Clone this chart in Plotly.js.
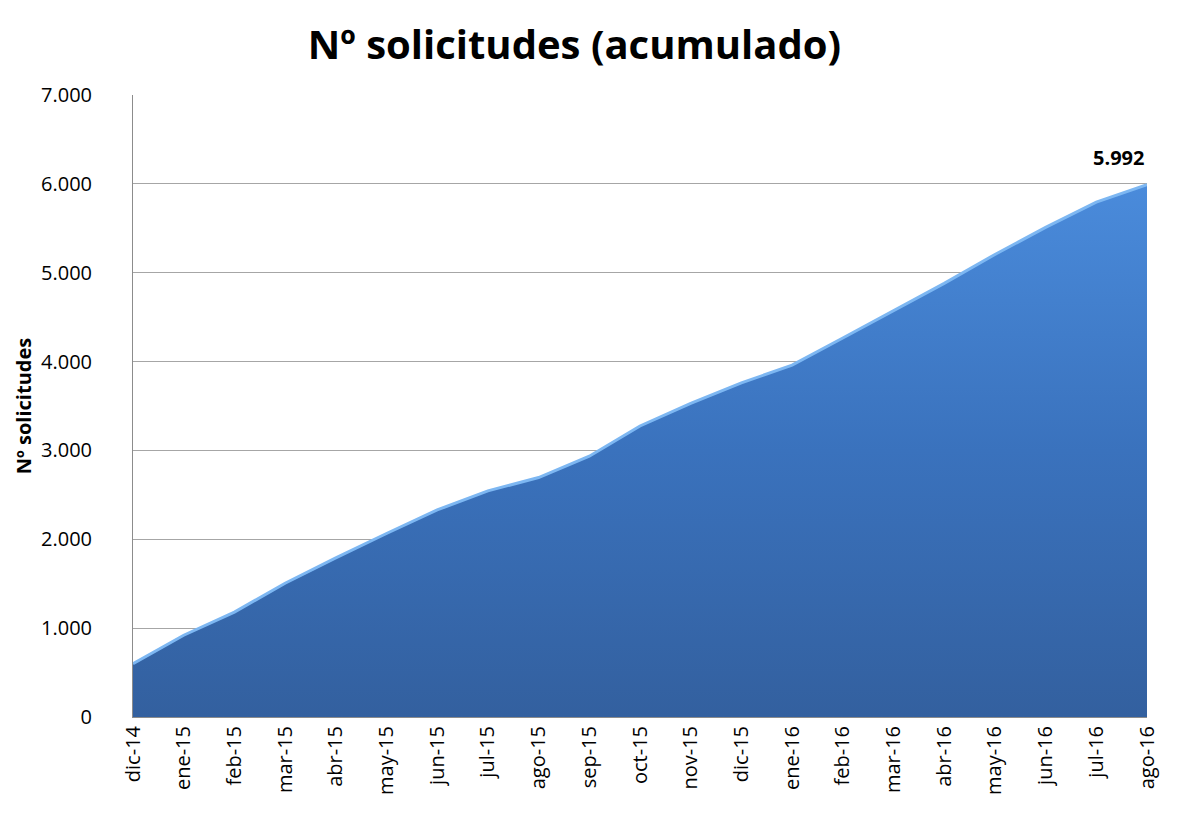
<!DOCTYPE html>
<html>
<head>
<meta charset="utf-8">
<script src="https://cdn.plot.ly/plotly-3.0.1.min.js"></script>
<style>html,body{margin:0;padding:0;background:#fff;}#chart{width:1177px;height:814px;}</style>
</head>
<body>
<div id="chart"></div>
<script>
const months = ["dic-14","ene-15","feb-15","mar-15","abr-15","may-15","jun-15","jul-15","ago-15","sep-15","oct-15","nov-15","dic-15","ene-16","feb-16","mar-16","abr-16","may-16","jun-16","jul-16","ago-16"];
const solicitudes = [600, 920, 1180, 1505, 1790, 2065, 2330, 2545, 2695, 2935, 3275, 3530, 3760, 3960, 4265, 4575, 4880, 5205, 5510, 5795, 5992];
const lastLabel = "5.992";

const font = "Open Sans, Liberation Sans, sans-serif";

const trace = {
  type: "scatter",
  mode: "lines",
  x: months,
  y: solicitudes,
  fill: "tozeroy",
  fillgradient: {type: "vertical", colorscale: [[0, "#33609f"], [0.5, "#3a72bd"], [1, "#4a8bdb"]]},
  line: {color: "#7db7f2", width: 3, shape: "linear"},
  hoverinfo: "x+y"
};

const layout = {
  width: 1177, height: 814,
  paper_bgcolor: "#ffffff", plot_bgcolor: "#ffffff",
  separators: ",.",
  margin: {l: 133, r: 30, t: 95, b: 97},
  showlegend: false,
  title: {text: "<b>Nº solicitudes (acumulado)</b>", x: 0.488, xanchor: "center", y: 0.945, yanchor: "middle",
          font: {family: font, size: 40, color: "#000"}},
  xaxis: {
    type: "category", range: [0, months.length - 1],
    showgrid: false, showline: true, linecolor: "#8c8c8c", linewidth: 1,
    ticks: "", tickangle: -90, tickfont: {family: font, size: 20, color: "#000"},
    fixedrange: true
  },
  yaxis: {
    range: [0, 7000], dtick: 1000, tickformat: ",d",
    showgrid: true, gridcolor: "#a6a6a6", gridwidth: 1,
    showline: true, linecolor: "#8c8c8c", linewidth: 1, zeroline: false,
    ticks: "", tickfont: {family: font, size: 20, color: "#000"}, ticklabelstandoff: 36,
    title: {text: "<b>Nº solicitudes</b>", font: {family: font, size: 20, color: "#000"}, standoff: 4},
    fixedrange: true
  },
  annotations: [{
    x: months[months.length - 1], y: solicitudes[solicitudes.length - 1],
    text: "<b>" + lastLabel + "</b>", showarrow: false,
    xanchor: "center", yanchor: "bottom", yshift: 12, xshift: -29,
    font: {family: font, size: 20, color: "#000"}
  }]
};

Plotly.newPlot("chart", [trace], layout, {displayModeBar: false, staticPlot: true});
</script>
</body>
</html>
